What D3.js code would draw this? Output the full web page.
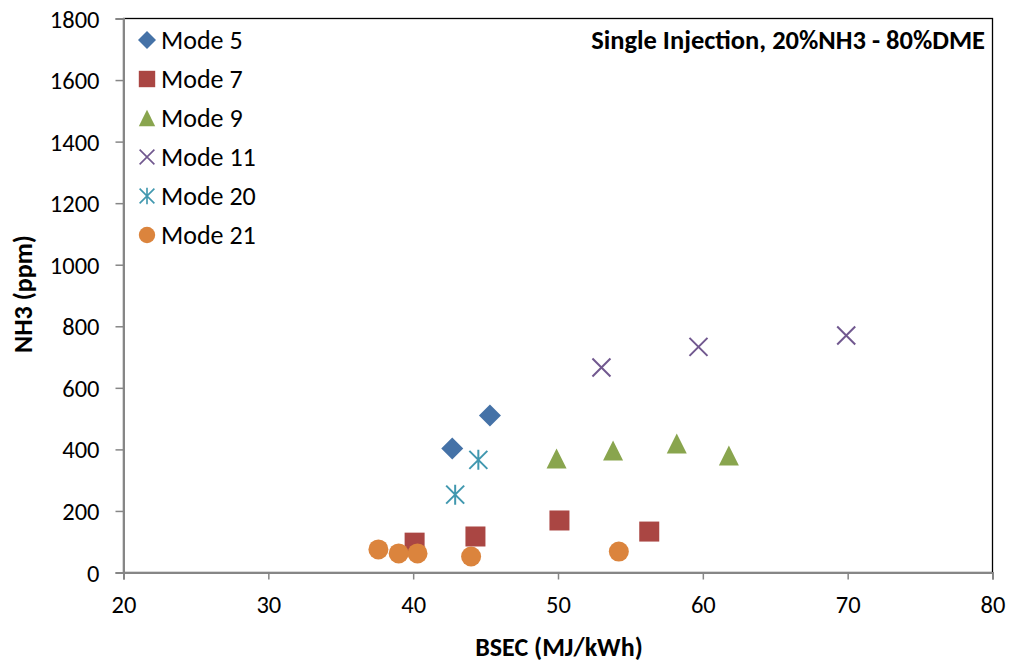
<!DOCTYPE html>
<html lang="en">
<head>
  <meta charset="UTF-8">
  <title>NH3 vs BSEC</title>
  <style>
    body, html { margin: 0; padding: 0; background: #fff; }
    svg text { font-family: Carlito, Calibri, Lato, sans-serif; }
  </style>
</head>
<body>
  <svg id="svg" width="1011" height="666"></svg>

  <script src="https://d3js.org/d3.v7.min.js"></script>
  <script>
    // series
    const modes = ['Mode 5', 'Mode 7', 'Mode 9', 'Mode 11', 'Mode 20', 'Mode 21']
    const mode5 = [[42.7, 403], [45.3, 510]]
    const mode7 = [[40.1, 97], [44.3, 117], [50.1, 169], [56.3, 133]]
    const mode9 = [[49.9, 370], [53.8, 396], [58.2, 419], [61.8, 380]]
    const mode11 = [[53.0, 666], [59.7, 733], [69.9, 770]]
    const mode20 = [[42.9, 253], [44.5, 366]]
    const mode21 = [[37.6, 75], [39.0, 62], [40.3, 62], [44.0, 52], [54.2, 68]]
    const xTicks = [20, 30, 40, 50, 60, 70, 80]
    const yTicks = [0, 200, 400, 600, 800, 1000, 1200, 1400, 1600, 1800]

    const seriesData = [mode5, mode7, mode9, mode11, mode20, mode21]
    const colors = ['#4572A7', '#AA4643', '#89A54E', '#71588F', '#4198AF', '#DB843D']
    const shapes = ['diamond', 'square', 'triangle', 'x', 'star', 'circle']

    const plotL = 123.5, plotR = 992.5, plotT = 18.5, plotB = 572.5
    const x = d3.scaleLinear().domain([20, 80]).range([plotL, plotR])
    const y = d3.scaleLinear().domain([0, 1800]).range([plotB, plotT])

    const svg = d3.select('#svg')

    // plot frame
    svg.append('rect')
      .attr('x', plotL).attr('y', plotT)
      .attr('width', plotR - plotL).attr('height', plotB - plotT)
      .attr('fill', 'none').attr('stroke', '#000').attr('stroke-width', 1.3)

    // axes
    const xAxis = svg.append('g')
      .attr('transform', `translate(0, ${plotB})`)
      .call(d3.axisBottom(x).tickValues(xTicks).tickFormat(d3.format('d')).tickSize(7).tickPadding(25))
    const yAxis = svg.append('g')
      .attr('transform', `translate(${plotL}, 0)`)
      .call(d3.axisLeft(y).tickValues(yTicks).tickFormat(d3.format('d')).tickSize(8).tickPadding(16))

    ;[xAxis, yAxis].forEach(a => {
      a.select('.domain').attr('stroke', '#868686').attr('stroke-width', 2)
      a.selectAll('.tick line').attr('stroke', '#868686').attr('stroke-width', 1.5)
      a.selectAll('.tick text')
        .attr('fill', '#000')
        .style('font-family', 'Carlito, Calibri, Lato, sans-serif')
        .style('font-size', '24.5px')
    })
    xAxis.selectAll('.tick text').attr('dy', '0.35em')
    yAxis.selectAll('.tick text').attr('dy', '0.35em')

    // marker drawing
    const drawMarker = (g, shape, color) => {
      if (shape === 'diamond') {
        g.append('path').attr('d', 'M0,-11L11,0L0,11L-11,0Z').attr('fill', color)
      } else if (shape === 'square') {
        g.append('rect').attr('x', -10).attr('y', -10).attr('width', 20).attr('height', 20)
          .attr('fill', color)
      } else if (shape === 'triangle') {
        g.append('path').attr('d', 'M0,-10L10,10L-10,10Z').attr('fill', color)
      } else if (shape === 'x') {
        g.append('path').attr('d', 'M-9,-9L9,9M-9,9L9,-9')
          .attr('stroke', color).attr('stroke-width', 2).attr('fill', 'none')
      } else if (shape === 'star') {
        g.append('path').attr('d', 'M-9,-9L9,9M-9,9L9,-9M0,-10L0,10')
          .attr('stroke', color).attr('stroke-width', 2).attr('fill', 'none')
      } else {
        g.append('circle').attr('r', 10).attr('fill', color)
      }
    }

    seriesData.forEach((pts, i) => {
      svg.append('g')
        .selectAll('g')
        .data(pts)
        .join('g')
        .attr('transform', d => `translate(${x(d[0])}, ${y(d[1])})`)
        .each(function () { drawMarker(d3.select(this), shapes[i], colors[i]) })
    })

    // legend
    const legend = svg.append('g')
    modes.forEach((m, i) => {
      const row = legend.append('g').attr('transform', `translate(147, ${40 + i * 39})`)
      const mk = row.append('g').attr('transform', 'scale(0.82)')
      drawMarker(mk, shapes[i], colors[i])
      row.append('text')
        .text(m)
        .attr('x', 14)
        .attr('dy', '0.35em')
        .style('font-size', '26px')
        .attr('fill', '#000')
    })

    // title inside plot
    svg.append('text')
      .text('Single Injection, 20%NH3 - 80%DME')
      .attr('x', 985).attr('y', 40)
      .attr('dy', '0.35em')
      .attr('text-anchor', 'end')
      .style('font-size', '26.5px')
      .style('font-weight', 'bold')

    // axis titles
    svg.append('text')
      .text('BSEC (MJ/kWh)')
      .attr('x', 559).attr('y', 647)
      .attr('dy', '0.35em')
      .attr('text-anchor', 'middle')
      .style('font-size', '26px')
      .style('font-weight', 'bold')

    svg.append('text')
      .text('NH3 (ppm)')
      .attr('transform', 'translate(23, 294) rotate(-90)')
      .attr('dy', '0.35em')
      .attr('text-anchor', 'middle')
      .style('font-size', '26px')
      .style('font-weight', 'bold')
  </script>
</body>
</html>
